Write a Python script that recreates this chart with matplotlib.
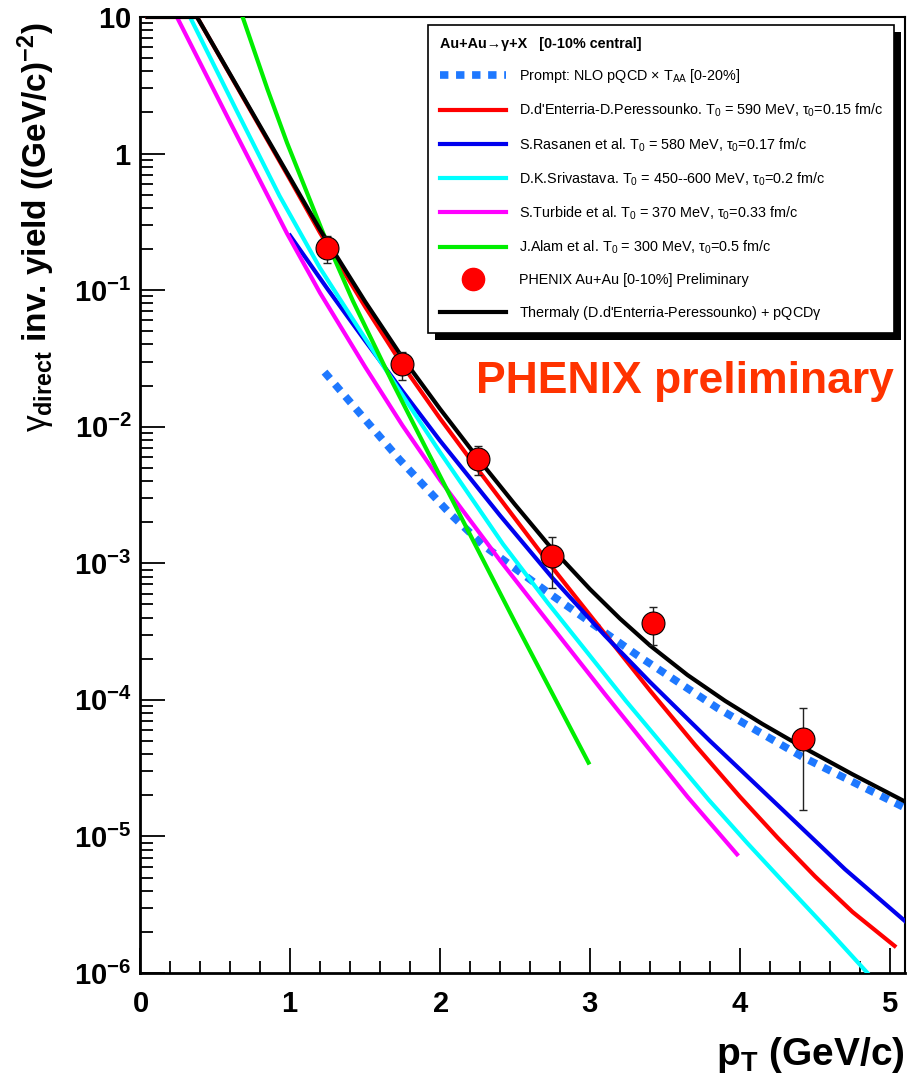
import matplotlib
matplotlib.use("Agg")
import numpy as np
import matplotlib.pyplot as plt
from matplotlib.lines import Line2D
from matplotlib.patches import Rectangle
from matplotlib.transforms import IdentityTransform
from matplotlib.ticker import LogLocator, MultipleLocator, FuncFormatter, NullFormatter

plt.rcParams['font.family'] = ['Liberation Sans', 'DejaVu Sans']
plt.rcParams['mathtext.fontset'] = 'custom'
plt.rcParams['mathtext.rm'] = 'Liberation Sans'
plt.rcParams['mathtext.it'] = 'Liberation Sans'
plt.rcParams['mathtext.sf'] = 'Liberation Sans'
plt.rcParams['mathtext.bf'] = 'Liberation Sans:bold'

# PHENIX Au+Au [0-10%] preliminary points
pt_data = [1.245, 1.745, 2.255, 2.745, 3.42, 4.42]
yield_data = [0.205, 0.0287, 5.78e-3, 1.13e-3, 3.68e-4, 5.15e-5]
yield_lo = [0.157, 0.022, 4.4e-3, 6.6e-4, 2.53e-4, 1.57e-5]
yield_hi = [0.25, 0.035, 7.2e-3, 1.57e-3, 4.82e-4, 8.7e-5]

# prompt NLO pQCD x TAA
pt_prompt = [1.23, 1.73, 2.07, 2.29, 2.73, 3.31, 3.85, 4.42, 5.1]
y_prompt = [0.0251, 5.75e-3, 2.29e-3, 1.35e-3, 6.0e-4, 2.14e-4, 8.7e-5, 3.8e-5, 1.62e-5]

# d'Enterria-Peressounko
pt_dde = [0.05, 0.38, 0.75, 1.0, 1.2, 1.5, 1.75, 2.0, 2.25, 2.72, 3.0, 3.4, 3.7, 4.0,
          4.25, 4.5, 4.75, 5.03]
y_dde = [10, 10, 1.95, 0.646, 0.263, 0.0759, 0.0282, 0.0115, 4.9e-3, 1.02e-3, 4.17e-4,
         1.17e-4, 4.68e-5, 1.95e-5, 9.8e-6, 5.1e-6, 2.8e-6, 1.58e-6]

# Rasanen
pt_ras = [1.0, 1.25, 1.5, 1.75, 2.0, 2.4, 2.75, 3.1, 3.4, 3.8, 4.25, 4.7, 5.1]
y_ras = [0.251, 0.102, 0.0427, 0.0182, 7.9e-3, 2.24e-3, 7.8e-4, 2.95e-4, 1.35e-4,
         5.0e-5, 1.7e-5, 5.75e-6, 2.4e-6]

# Srivastava
pt_sri = [0.333, 0.65, 0.93, 1.2, 1.47, 1.75, 2.0, 2.42, 2.72, 3.0, 3.24, 3.79, 4.05,
          4.3, 4.6, 4.85]
y_sri = [10, 2.0, 0.49, 0.145, 0.050, 0.017, 6.5e-3, 1.38e-3, 5.1e-4, 2.1e-4, 9.8e-5,
         1.86e-5, 8.9e-6, 4.5e-6, 2.0e-6, 1.0e-6]

# Turbide
pt_tur = [0.246, 0.6, 0.98, 1.2, 1.5, 1.75, 2.0, 2.4, 2.7, 3.1, 3.65, 3.98]
y_tur = [10, 1.7, 0.26, 0.0955, 0.0275, 0.0102, 4.07e-3, 1.05e-3, 3.98e-4, 1.1e-4,
         1.95e-5, 7.4e-6]

# Alam
pt_alam = [0.684, 0.85, 0.98, 1.22, 1.42, 1.68, 2.06, 2.5, 2.99]
y_alam = [10, 2.95, 1.2, 0.263, 0.083, 0.0214, 3.24e-3, 3.7e-4, 3.47e-5]

# thermal (dEP) + pQCD
pt_tot = [0.05, 0.38, 0.75, 1.2, 1.5, 1.75, 2.0, 2.28, 2.5, 2.72, 3.0, 3.2, 3.4, 3.65,
          3.9, 4.15, 4.4, 4.75, 5.1]
y_tot = [10, 10, 1.98, 0.277, 0.0826, 0.032, 0.0135, 5.37e-3, 2.69e-3, 1.38e-3, 6.46e-4,
         3.93e-4, 2.5e-4, 1.52e-4, 9.84e-5, 6.65e-5, 4.62e-5, 2.85e-5, 1.80e-5]

legend_title = "Au+Au\u2192\u03b3+X   [0-10% central]"
lab_prompt = "Prompt: NLO pQCD \u00d7 T$_{AA}$ [0-20%]"
lab_dde = r"D.d'Enterria-D.Peressounko. T$_0$ = 590 MeV, $\tau_0$=0.15 fm/c"
lab_ras = r"S.Rasanen et al. T$_0$ = 580 MeV, $\tau_0$=0.17 fm/c"
lab_sri = r"D.K.Srivastava. T$_0$ = 450--600 MeV, $\tau_0$=0.2 fm/c"
lab_tur = r"S.Turbide et al. T$_0$ = 370 MeV, $\tau_0$=0.33 fm/c"
lab_alam = r"J.Alam et al. T$_0$ = 300 MeV, $\tau_0$=0.5 fm/c"
lab_data = "PHENIX Au+Au [0-10%] Preliminary"
lab_tot = r"Thermal$\gamma$ (D.d'Enterria-Peressounko) + pQCD$\gamma$"

fig = plt.figure(figsize=(9.08, 10.88), dpi=100)
ax = fig.add_axes([0.1542, 0.1057, 0.8425, 0.8787])

dash_style = (0, (1.1, 1.0))
ax.plot(pt_prompt, y_prompt, color="#1e78ff", lw=5.5, ls=dash_style, dash_capstyle="butt", zorder=2)
ax.plot(pt_dde, y_dde, color="#ff0000", lw=3, zorder=3)
ax.plot(pt_ras, y_ras, color="#0000ee", lw=3, zorder=3)
ax.plot(pt_sri, y_sri, color="#00ffff", lw=3, zorder=3)
ax.plot(pt_tur, y_tur, color="#ff00ff", lw=3, zorder=3)
ax.plot(pt_alam, y_alam, color="#00ee00", lw=3, zorder=3)
ax.plot(pt_tot, y_tot, color="black", lw=3, zorder=4)

err_lo = [y - lo for y, lo in zip(yield_data, yield_lo)]
err_hi = [hi - y for y, hi in zip(yield_data, yield_hi)]
ax.errorbar(pt_data, yield_data, yerr=[err_lo, err_hi], fmt="none", ecolor="#222222",
            elinewidth=1.0, capsize=3, capthick=1.0, zorder=6)
ax.plot(pt_data, yield_data, "o", ms=16.5, mfc="red", mec="black", mew=0.8, zorder=7)

ax.set_yscale("log")
ax.set_xlim(0, 5.1)
ax.set_ylim(1e-6, 10)

ax.xaxis.set_major_locator(MultipleLocator(1))
ax.xaxis.set_minor_locator(MultipleLocator(0.2))
ax.xaxis.set_major_formatter(FuncFormatter(lambda v, p: r"$\mathbf{%d}$" % round(v)))
ax.yaxis.set_major_locator(LogLocator(base=10, numticks=15))
ax.yaxis.set_minor_locator(LogLocator(base=10, subs=range(2, 10), numticks=15))
ax.yaxis.set_minor_formatter(NullFormatter())


def ylab(v, p):
    e = int(round(np.log10(v)))
    if e >= 0:
        return r"$\mathbf{%d}$" % round(v)
    return r"$\mathbf{10^{%d}}$" % e


ax.yaxis.set_major_formatter(FuncFormatter(ylab))

ax.tick_params(which="both", direction="in", top=False, right=False, width=1.3, labelsize=21)
ax.tick_params(which="major", length=18)
ax.tick_params(which="minor", length=9)
ax.tick_params(axis="x", pad=12)
ax.tick_params(axis="y", pad=6)
for s in ["left", "bottom"]:
    ax.spines[s].set_linewidth(2)
for s in ["top", "right"]:
    ax.spines[s].set_linewidth(1.5)

ax.set_ylabel(r"$\gamma_{\mathbf{direct}}$ inv. yield ((GeV/c)$^{\mathbf{-2}}$)",
              fontsize=24, fontweight="bold")
ax.yaxis.set_label_coords(-0.108, 0.78)
ax.set_xlabel(r"$\mathbf{p_{T}}$ (GeV/c)", fontsize=28, fontweight="bold")
ax.xaxis.label.set_ha("right")
ax.xaxis.label.set_va("center")
ax.xaxis.set_label_coords(1.0, -0.086)

ax.text(0.7124, 0.6067, "PHENIX preliminary", transform=ax.transAxes, ha="center",
        va="baseline", color="#ff3300", fontsize=32, fontweight="bold")

handles = [
    Line2D([], [], color="#1e78ff", lw=5.5, ls=dash_style, dash_capstyle="butt"),
    Line2D([], [], color="#ff0000", lw=3),
    Line2D([], [], color="#0000ee", lw=3),
    Line2D([], [], color="#00ffff", lw=3),
    Line2D([], [], color="#ff00ff", lw=3),
    Line2D([], [], color="#00ee00", lw=3),
    Line2D([], [], ls="none", marker="o", ms=16, mfc="red", mec="red"),
    Line2D([], [], color="black", lw=3),
]
labels = [lab_prompt, lab_dde, lab_ras, lab_sri, lab_tur, lab_alam, lab_data, lab_tot]
leg = ax.legend(handles, labels, loc="upper left", bbox_to_anchor=(0.3765, 0.9916),
                borderaxespad=0, prop={"size": 10.4}, title=legend_title,
                title_fontproperties={"size": 10.4, "weight": "bold"}, alignment="left",
                frameon=True, fancybox=False, edgecolor="black", framealpha=1,
                handlelength=4.6, handletextpad=0.9, labelspacing=1.16, borderpad=0.8)
leg.get_frame().set_linewidth(1.2)

fig.canvas.draw()
bb = leg.get_window_extent()
shadow = Rectangle((bb.x0 + 7, bb.y0 - 7), bb.width, bb.height, transform=IdentityTransform(),
                   facecolor="black", edgecolor="none", zorder=leg.get_zorder() - 0.1)
ax.add_artist(shadow)

fig.savefig("out.png", dpi=100)
